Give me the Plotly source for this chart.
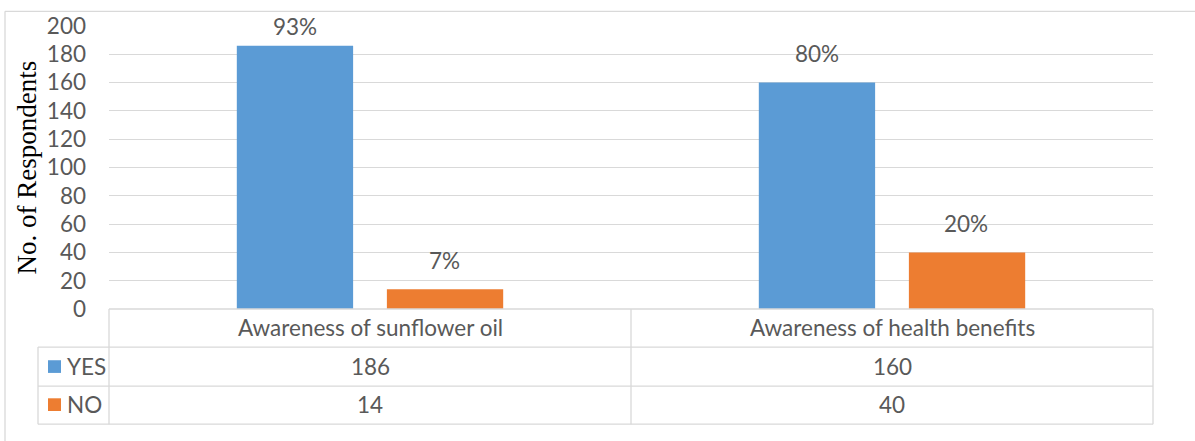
import plotly.graph_objects as go

categories = ["Awareness of sunflower oil", "Awareness of health benefits"]
yes_values = [186, 160]
no_values = [14, 40]
series_names = ["YES", "NO"]
y_ticks = [0, 20, 40, 60, 80, 100, 120, 140, 160, 180, 200]

BLUE = "#5B9BD5"
ORANGE = "#ED7D31"
TXT = "#595959"
GRID = "#D9D9D9"
FONT = "Lato"
FS = 22.5

W, H = 1195, 441
L, R, T, B = 109, 1153, 19, 309  # plot area pixels
pw, ph = R - L, B - T


def px(x):
    return (x - L) / pw


def py(y):
    return (B - y) / ph


fig = go.Figure()
fig.add_bar(x=categories, y=yes_values, name=series_names[0], marker_color=BLUE,
            marker_line_width=0)
fig.add_bar(x=categories, y=no_values, name=series_names[1], marker_color=ORANGE,
            marker_line_width=0)

annotations = []
shapes = []

# percentage labels
totals = [a + b for a, b in zip(yes_values, no_values)]
for vals, shift in ((yes_values, -75), (no_values, 74)):
    for cat, v, tot in zip(categories, vals, totals):
        annotations.append(dict(
            x=cat, xref="x", xshift=shift, y=min(v + 20.5, 200), yref="y",
            text=f"{round(v / tot * 100)}%", showarrow=False, yanchor="middle",
            font=dict(family=FONT, size=FS, color=TXT)))

# data table
row_header = py(328)
row_yes = py(368)
row_no = py(407)
for cat in categories:
    annotations.append(dict(x=cat, xref="x", y=row_header, yref="paper", text=cat,
                            showarrow=False, yanchor="middle",
                            font=dict(family=FONT, size=FS, color=TXT)))
for cat, v in zip(categories, yes_values):
    annotations.append(dict(x=cat, xref="x", y=row_yes, yref="paper", text=str(v),
                            showarrow=False, yanchor="middle",
                            font=dict(family=FONT, size=FS, color=TXT)))
for cat, v in zip(categories, no_values):
    annotations.append(dict(x=cat, xref="x", y=row_no, yref="paper", text=str(v),
                            showarrow=False, yanchor="middle",
                            font=dict(family=FONT, size=FS, color=TXT)))
for name, col, ry in ((series_names[0], BLUE, 368), (series_names[1], ORANGE, 407)):
    shapes.append(dict(type="rect", xref="paper", yref="paper",
                       x0=px(48), x1=px(61), y0=py(ry - 6.5), y1=py(ry + 6.5),
                       fillcolor=col, line_width=0))
    annotations.append(dict(x=px(65), xref="paper", y=py(ry), yref="paper", text=name,
                            showarrow=False, xanchor="left", yanchor="middle",
                            font=dict(family=FONT, size=FS, color=TXT)))

line = dict(color=GRID, width=1.3)
# horizontal table lines
shapes.append(dict(type="line", xref="paper", yref="paper", x0=px(L), x1=px(R),
                   y0=py(309), y1=py(309), line=line))
for yy in (348, 388, 427):
    shapes.append(dict(type="line", xref="paper", yref="paper", x0=px(38), x1=px(R),
                       y0=py(yy), y1=py(yy), line=line))
# vertical table lines
shapes.append(dict(type="line", xref="paper", yref="paper", x0=px(38), x1=px(38),
                   y0=py(348), y1=py(427), line=line))
for xx in (L, 631, R):
    shapes.append(dict(type="line", xref="paper", yref="paper", x0=px(xx), x1=px(xx),
                       y0=py(309), y1=py(427), line=line))
# outer chart border
shapes.append(dict(type="line", xref="paper", yref="paper", x0=px(5), x1=px(W + 5),
                   y0=py(4), y1=py(4), line=line))
shapes.append(dict(type="line", xref="paper", yref="paper", x0=px(5), x1=px(5),
                   y0=py(4), y1=py(H + 5), line=line))

# y-axis title
annotations.append(dict(x=px(26), xref="paper", y=py(164), yref="paper",
                        text="No. of Respondents", textangle=-90, showarrow=False,
                        xanchor="center", yanchor="middle",
                        font=dict(family="Liberation Serif", size=27, color="#000000")))

fig.update_layout(
    width=W, height=H,
    margin=dict(l=L, r=W - R, t=T, b=H - B, pad=0),
    paper_bgcolor="white", plot_bgcolor="white",
    barmode="group", bargap=0.425, bargroupgap=0.225,
    showlegend=False,
    annotations=annotations, shapes=shapes,
    font=dict(family=FONT, color=TXT),
)
fig.update_xaxes(showticklabels=False, showgrid=False, showline=False, zeroline=False,
                 ticks="")
fig.update_yaxes(range=[0, 200], tickvals=y_ticks, showgrid=True, gridcolor=GRID,
                 gridwidth=1.3, zeroline=False, showline=False, ticks="",
                 ticklabelstandoff=22,
                 tickfont=dict(family=FONT, size=FS, color=TXT))

fig.write_html("out.html")
